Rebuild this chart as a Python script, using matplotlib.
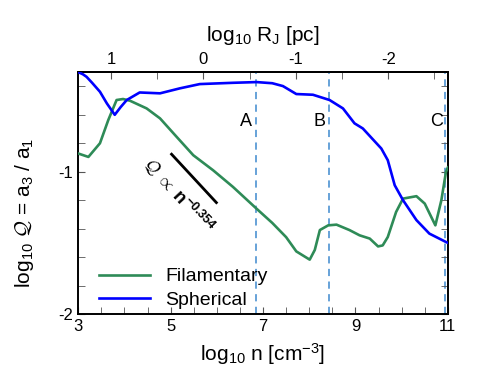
import matplotlib
matplotlib.use("Agg")
import matplotlib.pyplot as plt
import numpy as np
from matplotlib.ticker import MultipleLocator, FixedLocator, FixedFormatter

plt.rcParams['font.family'] = ['Liberation Sans', 'DejaVu Sans']
plt.rcParams['mathtext.fontset'] = 'custom'
plt.rcParams['mathtext.rm'] = 'Liberation Sans'
plt.rcParams['mathtext.it'] = 'Liberation Serif:italic'
plt.rcParams['mathtext.bf'] = 'Liberation Sans:bold'
plt.rcParams['mathtext.cal'] = 'cmsy10'

# Spherical (blue)
sph_x = [3.00, 3.10, 3.18, 3.30, 3.47, 3.62, 3.79, 3.92, 4.05, 4.33, 4.77, 5.20, 5.63,
         6.35, 6.86, 7.20, 7.43, 7.72, 8.08, 8.44, 8.73, 8.98, 9.16, 9.56, 9.70, 9.85,
         10.03, 10.32, 10.60, 10.96, 11.00]
sph_y = [-0.30, -0.315, -0.333, -0.375, -0.438, -0.520, -0.600, -0.545, -0.496, -0.443,
         -0.449, -0.414, -0.384, -0.375, -0.370, -0.378, -0.398, -0.454, -0.459, -0.496,
         -0.555, -0.660, -0.696, -0.837, -0.919, -1.095, -1.200, -1.340, -1.435, -1.494,
         -1.50]

# Filamentary (green)
fil_x = [3.00, 3.22, 3.47, 3.65, 3.83, 3.97, 4.12, 4.48, 4.77, 5.13, 5.49, 5.92, 6.35,
         6.86, 7.20, 7.50, 7.72, 8.01, 8.12, 8.23, 8.41, 8.59, 8.87, 9.09, 9.31, 9.49,
         9.59, 9.70, 9.88, 10.03, 10.32, 10.50, 10.73, 10.86, 10.96, 11.00]
fil_y = [-0.872, -0.896, -0.800, -0.637, -0.496, -0.489, -0.501, -0.555, -0.625, -0.755,
         -0.884, -0.990, -1.107, -1.260, -1.360, -1.460, -1.560, -1.618, -1.550, -1.410,
         -1.377, -1.372, -1.410, -1.447, -1.470, -1.525, -1.518, -1.459, -1.283, -1.189,
         -1.172, -1.224, -1.377, -1.200, -1.000, -0.97]

# power law guide
pl_x = [5.02, 5.99]
pl_y = [-0.877, -1.217]

# marked densities
mark_x = [6.857, 8.43, 10.94]
mark_lbl = ['A', 'B', 'C']
mark_lbl_x = [6.62, 8.22, 10.75]
mark_lbl_y = -0.65

fig = plt.figure(figsize=(4.8, 3.92), dpi=100)
ax = fig.add_axes([0.163, 0.199, 0.770, 0.617])

for xv in mark_x:
    ax.axvline(xv, color='#5b9bd5', lw=1.3, ls=(0, (4, 3)), zorder=1)
for xl, t in zip(mark_lbl_x, mark_lbl):
    ax.text(xl, mark_lbl_y, t, fontsize=13, ha='center', va='center')

ax.plot(fil_x, fil_y, color='#2e8b57', lw=1.9, label='Filamentary', zorder=3)
ax.plot(sph_x, sph_y, color='#0000ff', lw=1.9, label='Spherical', zorder=3)
ax.plot(pl_x, pl_y, color='black', lw=2.0, zorder=3)

ax.text(5.18, -1.165, r'$\mathcal{Q}$ $\propto$ $\mathbf{n}^{\mathbf{-0.354}}$', rotation=-47,
        fontsize=13, ha='center', va='center', rotation_mode='anchor')

ax.set_xlim(3, 11)
ax.set_ylim(-2, -0.3)
ax.xaxis.set_major_locator(FixedLocator([3, 5, 7, 9, 11]))
ax.xaxis.set_minor_locator(MultipleLocator(0.5))
ax.yaxis.set_major_locator(FixedLocator([-2, -1]))
ax.yaxis.set_major_formatter(FixedFormatter(['-2', '-1']))
ax.yaxis.set_minor_locator(MultipleLocator(0.2))
ax.tick_params(which='both', direction='in', top=False, right=True, labelsize=12,
               color='#555555')
ax.tick_params(which='major', length=5)
ax.tick_params(which='minor', length=5)
for s in ax.spines.values():
    s.set_linewidth(1.4)

ax.set_xlabel(r'log$_{10}$ n [cm$^{-3}$]', fontsize=15, labelpad=6)
ax.set_ylabel(r'log$_{10}$ $\mathcal{Q}$ = a$_3$ / a$_1$', fontsize=15, labelpad=12)
ax.yaxis.set_label_coords(-0.115, 0.42)

def n2r(x):
    return (5.71 - np.asarray(x)) / 2.0

def r2n(r):
    return 5.71 - 2.0 * np.asarray(r)

sec = ax.secondary_xaxis('top', functions=(n2r, r2n))
sec.xaxis.set_major_locator(FixedLocator([1, 0, -1, -2]))
sec.xaxis.set_major_formatter(FixedFormatter(['1', '0', '-1', '-2']))
sec.xaxis.set_minor_locator(MultipleLocator(0.5))
sec.tick_params(which='both', direction='in', labelsize=12, length=5, color='#555555')
sec.set_xlabel(r'log$_{10}$ R$_\mathrm{J}$ [pc]', fontsize=15, labelpad=8)
sec.spines['top'].set_linewidth(1.4)

leg = ax.legend(loc='lower left', frameon=False, fontsize=14, handlelength=2.6,
                borderaxespad=0.3, labelspacing=0.3, bbox_to_anchor=(0.02, -0.035))

fig.savefig('out.png', dpi=100)
